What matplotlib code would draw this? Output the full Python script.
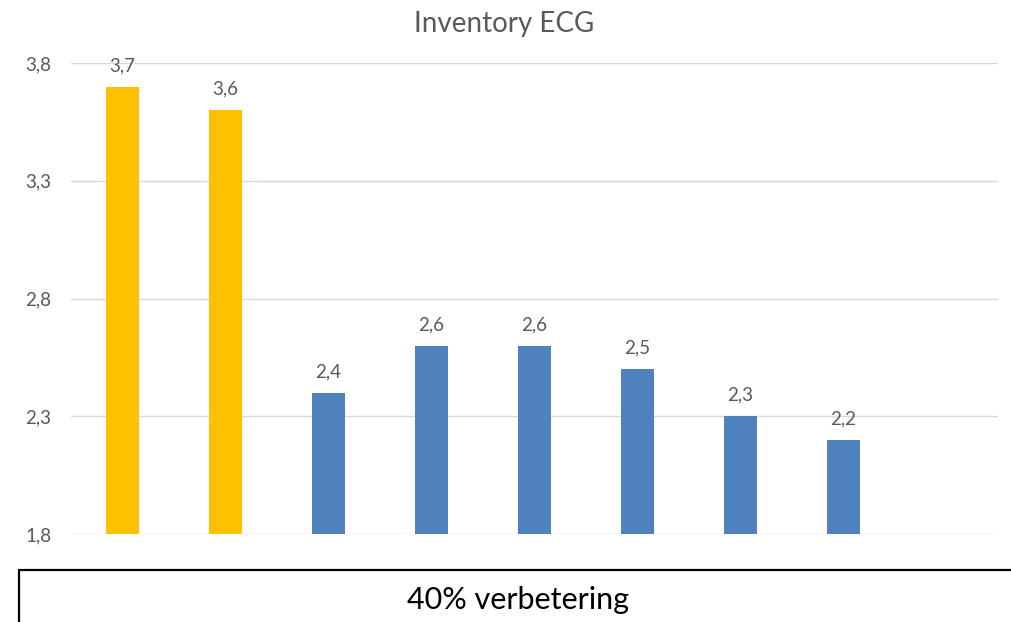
import matplotlib.pyplot as plt
from matplotlib.patches import Rectangle

# Chart data
categories = ["1", "2", "3", "4", "5", "6", "7", "8", "9"]
values = [3.7, 3.6, 2.4, 2.6, 2.6, 2.5, 2.3, 2.2, None]
colors = ["#FFC000", "#FFC000", "#4F81BD", "#4F81BD", "#4F81BD",
          "#4F81BD", "#4F81BD", "#4F81BD", "#4F81BD"]
y_ticks = [1.8, 2.3, 2.8, 3.3, 3.8]
title = "Inventory ECG"
note = "40% verbetering"


def fmt(v):
    return f"{v:.1f}".replace(".", ",")


def plot_chart():
    plt.rcParams['font.family'] = ['Lato', 'DejaVu Sans']
    fig = plt.figure(figsize=(10.11, 6.22), dpi=100)
    ax = fig.add_axes([71 / 1011, 88 / 622, 927 / 1011, 471 / 622])

    xs = list(range(len(categories)))
    for x, v, c in zip(xs, values, colors):
        if v is None:
            continue
        ax.bar(x, v - 1.8, bottom=1.8, width=0.32, color=c, zorder=2)
        ax.annotate(fmt(v), (x, v), xytext=(0, 9), textcoords="offset points",
                    ha="center", va="bottom", fontsize=13.5, color="#595959")

    ax.set_xlim(-0.5, len(categories) - 0.5)
    ax.set_ylim(1.8, 3.8)
    ax.set_yticks(y_ticks)
    ax.set_yticklabels([fmt(t) for t in y_ticks], fontsize=13.5, color="#595959")
    ax.set_xticks([])
    ax.tick_params(axis="y", length=0, pad=14)
    ax.grid(axis="y", color="#D9D9D9", linewidth=1, zorder=0)
    for s in ax.spines.values():
        s.set_visible(False)

    fig.text(504 / 1011, 1 - 24 / 622, title, ha="center", va="center",
             fontsize=20, color="#595959")

    box = Rectangle((19 / 1011, -0.05), 1.0, 0.05 + 52 / 622,
                    transform=fig.transFigure, fill=False,
                    edgecolor="black", linewidth=1.6)
    fig.patches.append(box)
    fig.text(518 / 1011, 1 - 600 / 622, note, ha="center", va="center",
             fontsize=22, color="black")

    fig.savefig("out.png", dpi=100)


if __name__ == "__main__":
    plot_chart()
